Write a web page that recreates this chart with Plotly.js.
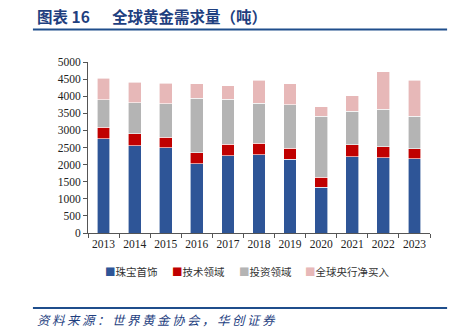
<!DOCTYPE html>
<html>
<head>
<meta charset="utf-8">
<script src="https://cdn.plot.ly/plotly-3.0.1.min.js"></script>
<style>html,body{margin:0;padding:0;background:#fff;}#chart{width:466px;height:329px;}</style>
</head>
<body>
<div id="chart"></div>
<script>
const years = ['2013','2014','2015','2016','2017','2018','2019','2020','2021','2022','2023'];
const jewelry = [2750, 2550, 2495, 2030, 2260, 2290, 2155, 1335, 2230, 2205, 2175];
const technology = [340, 345, 310, 310, 330, 330, 330, 295, 345, 310, 290];
const investment = [800, 915, 975, 1605, 1315, 1180, 1265, 1790, 985, 1110, 955];
const centralBanks = [640, 605, 595, 420, 395, 660, 615, 265, 455, 1090, 1045];
const seriesNames = ['珠宝首饰', '技术领域', '投资领域', '全球央行净买入'];
const colors = ['#2E5597', '#C00000', '#B4B4B4', '#E7B8B8'];
const seriesData = [jewelry, technology, investment, centralBanks];

const traces = seriesData.map((vals, i) => ({
  type: 'bar', x: years, y: vals, name: seriesNames[i],
  marker: {color: colors[i], line: {color: '#ffffff', width: 0.6}},
  hoverinfo: 'none', showlegend: false
}));

// legend drawn as text entries built from series names and colours
const legendX = [0.045, 0.24, 0.437, 0.63];
const legendAnn = seriesNames.map((n, i) => ({
  text: '<span style="color:' + colors[i] + '">■</span>' + n,
  xref: 'paper', yref: 'paper', x: legendX[i], y: -0.228, xanchor: 'left', yanchor: 'middle',
  showarrow: false, font: {family: 'Noto Sans CJK SC', size: 10.5, color: '#333'}
}));

const sourceText = '资料来源：世界黄金协会，华创证券';
const spaced = Array.from(sourceText).join('\u2009');

const serif = 'Liberation Serif, Times New Roman, serif';
const layout = {
  width: 466, height: 329,
  margin: {l: 88, r: 36, t: 62, b: 96},
  barmode: 'stack', bargap: 0.59,
  paper_bgcolor: '#fff', plot_bgcolor: '#fff',
  showlegend: false,
  xaxis: {type: 'category', showline: true, linecolor: '#555', linewidth: 1, tickangle: 0,
    ticks: 'outside', ticklen: 4, tickcolor: '#555', tickson: 'boundaries', automargin: false,
    tickfont: {family: serif, size: 11.5, color: '#222'}, showgrid: false, zeroline: false, fixedrange: true},
  yaxis: {range: [0, 5000], dtick: 500, showline: true, linecolor: '#555', linewidth: 1,
    ticks: 'outside', ticklen: 4, tickcolor: '#555', automargin: false,
    tickfont: {family: serif, size: 11.5, color: '#222'}, showgrid: false, zeroline: false, fixedrange: true},
  annotations: [
    {text: '<b>图表 16</b>', xref: 'paper', yref: 'paper', x: -0.155, y: 1.27,
     xanchor: 'left', yanchor: 'middle', showarrow: false,
     font: {family: 'Noto Sans CJK SC', size: 15.5, color: '#1F3F7F'}},
    {text: '<b>全球黄金需求量（吨）</b>', xref: 'paper', yref: 'paper', x: 0.065, y: 1.27,
     xanchor: 'left', yanchor: 'middle', showarrow: false,
     font: {family: 'Noto Sans CJK SC', size: 15.5, color: '#1F3F7F'}},
    {text: '<i>' + spaced + '</i>', xref: 'paper', yref: 'paper', x: -0.155, y: -0.506,
     xanchor: 'left', yanchor: 'middle', showarrow: false,
     font: {family: 'Noto Sans CJK SC', size: 12.5, color: '#1F3F7F'}}
  ].concat(legendAnn),
  shapes: [
    {type: 'line', xref: 'paper', yref: 'paper', x0: -0.161, x1: 1.05, y0: 1.19, y1: 1.19,
     line: {color: '#1F4E8C', width: 2}},
    {type: 'line', xref: 'paper', yref: 'paper', x0: -0.161, x1: 1.05, y0: -0.439, y1: -0.439,
     line: {color: '#1F4E8C', width: 2}}
  ]
};
Plotly.newPlot('chart', traces, layout, {displayModeBar: false, staticPlot: true});
</script>
</body>
</html>
